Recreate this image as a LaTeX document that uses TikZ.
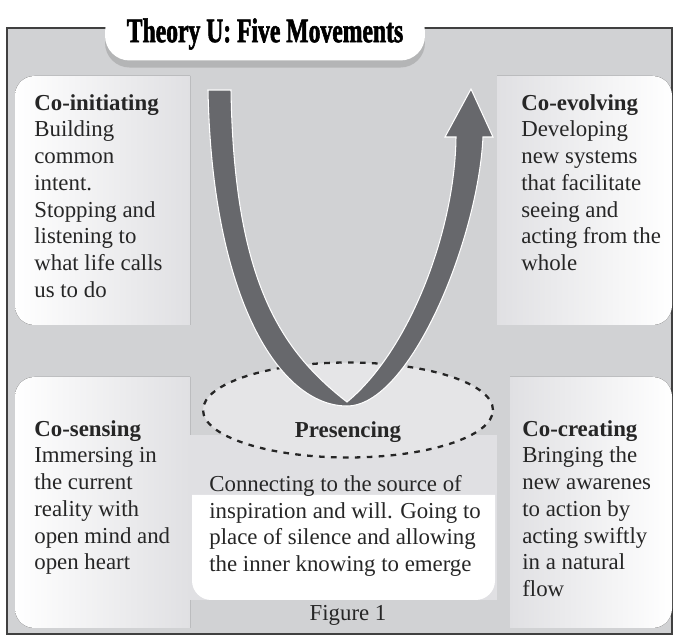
\documentclass[tikz,border=0pt]{standalone}
\usepackage{fontspec}
\setmainfont{Liberation Serif}
\newfontfamily\headfont[FakeStretch=0.69,FakeBold=1.6]{Liberation Serif}
\usetikzlibrary{shapes.geometric,shadows}

\definecolor{panelgrey}{RGB}{209,210,212}
\definecolor{boxgrey}{RGB}{224,224,227}
\definecolor{ugrey}{RGB}{103,104,108}
\definecolor{ovalgrey}{RGB}{229,229,231}
\definecolor{inkgrey}{RGB}{38,38,38}

\tikzset{
  movetext/.style={anchor=north west, align=left, inner sep=0pt, text=inkgrey,
    font=\fontsize{13}{15.2}\selectfont},
  headbox/.style={fill=white, rounded corners=14pt, minimum width=6.4cm, minimum height=1.06cm,
    font=\headfont\bfseries\fontsize{19.5}{21}\selectfont,
    drop shadow={shadow xshift=0pt, shadow yshift=-4pt, fill=black!40, opacity=0.5}},
}

\begin{document}
\begin{tikzpicture}[x=0.02cm, y=-0.02cm]
\useasboundingbox (0,0) rectangle (680,641);

% outer frame
\draw[fill=panelgrey, draw=black!75, line width=0.8pt] (7,28) rectangle (672,634);

% the four movement panels
\fill[left color=white, right color=boxgrey] (190,76) [rounded corners=11pt] -- (15,76) -- (15,325) [sharp corners] -- (190,325) -- cycle;
\fill[left color=boxgrey, right color=white] (497,76) [rounded corners=11pt] -- (672,76) -- (672,325) [sharp corners] -- (497,325) -- cycle;
\fill[left color=white, right color=boxgrey] (190,377) [rounded corners=11pt] -- (15,377) -- (15,628) [sharp corners] -- (190,628) -- cycle;
\fill[left color=boxgrey, right color=white] (510,377) [rounded corners=11pt] -- (672,377) -- (672,628) [sharp corners] -- (510,628) -- cycle;

% presencing panel
\fill[boxgrey] (190,435) rectangle (497,600);
\fill[white] (192,495) [rounded corners=11pt] -- (192,600) -- (495,600) [sharp corners] -- (495,495) -- cycle;

% title
\node[headbox] (title) at (265,34) {\raisebox{-3pt}{Theory U: Five Movements}};

% the bottom of the U
\node[ellipse, draw=black!85, fill=ovalgrey, line width=1.3pt, dash pattern=on 3.2pt off 3.6pt,
  minimum width=5.8cm, minimum height=1.9cm, inner sep=0pt] (oval) at (348,410) {};

% the U arrow
\fill[ugrey, draw=white, line width=0.6pt]
  (208,90) -- (231,90)
  .. controls (234,280) and (280,350) .. (347,402)
  .. controls (410,350) and (455,230) .. (456,137)
  -- (445,137) -- (471,89) -- (493,137) -- (483,137)
  .. controls (478,240) and (410,406) .. (347,406)
  .. controls (280,406) and (212,300) .. (208,90) -- cycle;

% texts
\node[movetext] (coinit) at (34,94) {\textbf{Co-initiating}\\Building\\common\\intent.\\Stopping and\\listening to\\what life calls\\us to do};
\node[movetext] (coevol) at (521,94) {\textbf{Co-evolving}\\Developing\\new systems\\that facilitate\\seeing and\\acting from the\\whole};
\node[movetext] (cosens) at (34,420) {\textbf{Co-sensing}\\Immersing in\\the current\\reality with\\open mind and\\open heart};
\node[movetext] (cocrea) at (522,420) {\textbf{Co-creating}\\Bringing the\\new awarenes\\to action by\\acting swiftly\\in a natural\\flow};
\node[movetext, anchor=center, font=\bfseries\fontsize{13}{15.2}\selectfont] (presname) at (348,432) {Presencing};
\node[movetext] (presdesc) at (209,475) {Connecting to the source of\\inspiration and will. Going to\\place of silence and allowing\\the inner knowing to emerge};
\node[movetext, anchor=center] (figno) at (348,615) {Figure 1};
\end{tikzpicture}
\end{document}
